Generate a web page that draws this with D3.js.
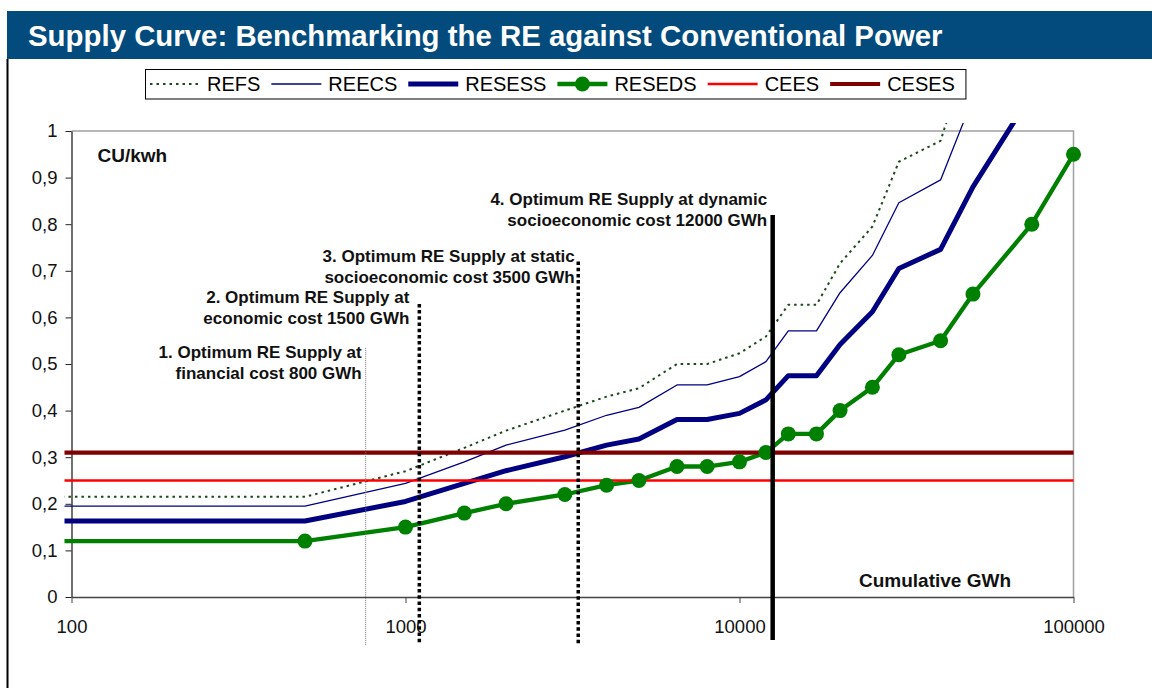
<!DOCTYPE html>
<html><head><meta charset="utf-8">
<script src="https://cdn.jsdelivr.net/npm/d3@7"></script>
<style>
body{margin:0;background:#fff;}
svg{display:block;font-family:Arial,"Liberation Sans",Helvetica,sans-serif;}
</style>
</head><body>
<svg id="chart" width="1152" height="688"></svg>
<script>
// ---------------- DATA ----------------
const chartTitle = "Supply Curve: Benchmarking the RE against Conventional Power";
const seriesNames = ["REFS", "REECS", "RESESS", "RESEDS", "CEES", "CESES"];
const cumulativeGWh = [50, 500, 1000, 1500, 2000, 3000, 4000, 5000, 6500, 8000, 10000,
  12000, 14000, 17000, 20000, 25000, 30000, 40000, 50000, 75000, 100000];
const refs   = [0.215, 0.215, 0.270, 0.320, 0.357, 0.400, 0.430, 0.448, 0.500, 0.500, 0.523,
  0.559, 0.627, 0.627, 0.716, 0.795, 0.934, 0.979, 1.200];
const reecs  = [0.195, 0.195, 0.244, 0.290, 0.326, 0.358, 0.390, 0.407, 0.455, 0.455, 0.473,
  0.505, 0.571, 0.571, 0.653, 0.733, 0.846, 0.895, 1.070];
const resess = [0.163, 0.163, 0.205, 0.244, 0.271, 0.301, 0.326, 0.339, 0.381, 0.381, 0.394,
  0.423, 0.475, 0.475, 0.542, 0.612, 0.705, 0.746, 0.880, 1.080];
const reseds = [0.12, 0.12, 0.15, 0.18, 0.20, 0.22, 0.24, 0.25, 0.28, 0.28, 0.29,
  0.31, 0.35, 0.35, 0.40, 0.45, 0.52, 0.55, 0.65, 0.80, 0.95];
const ceesCost = 0.25;
const cesesCost = 0.31;
const benchmarkGWh = [50, 100000];

const xTickValues = [100, 1000, 10000, 100000];
const xTickLabels = ["100", "1000", "10000", "100000"];
const yTickValues = [0, 0.1, 0.2, 0.3, 0.4, 0.5, 0.6, 0.7, 0.8, 0.9, 1];
const yTickLabels = ["0", "0,1", "0,2", "0,3", "0,4", "0,5", "0,6", "0,7", "0,8", "0,9", "1"];
const yAxisTitle = "CU/kwh";
const xAxisTitle = "Cumulative GWh";

// optimum supply markers (position on x axis, top of the marker line in CU/kwh)
const optimumGWh = [760, 1100, 3290, 12570];
const optimumTop = [0.534, 0.629, 0.72, 0.82];
const optimumLabels = [
  ["1. Optimum RE Supply at", "financial cost 800 GWh"],
  ["2. Optimum RE Supply at", "economic cost 1500 GWh"],
  ["3. Optimum RE Supply at static", "socioeconomic cost 3500 GWh"],
  ["4. Optimum RE Supply at dynamic", "socioeconomic cost 12000 GWh"]
];

// ---------------- LAYOUT / STYLE ----------------
const plot = {left: 71.5, right: 1073.5, top: 131, bottom: 597};
const labelGap = [4, 10, 3.5, 5.5];
const labelBaselines = [[358, 379], [302.5, 324], [262, 283], [204.5, 226]];
const optimumBottomPx = [645, 645, 645, 640];

const svg = d3.select("#chart");

const x = d3.scaleLog().domain([100, 100000]).range([plot.left, plot.right]);
const y = d3.scaleLinear().domain([0, 1]).range([plot.bottom, plot.top]);

// title bar
svg.append("rect").attr("x", 7).attr("y", 11).attr("width", 1145).attr("height", 48)
  .attr("fill", "#024b7c");
svg.append("text").attr("x", 28).attr("y", 46)
  .attr("fill", "#fff").attr("font-weight", "bold").attr("font-size", 29.4)
  .text(chartTitle);
// left frame line
svg.append("line").attr("x1", 7.5).attr("x2", 7.5).attr("y1", 59).attr("y2", 688)
  .attr("stroke", "#000").attr("stroke-width", 2);

// plot border (top & right)
svg.append("path")
  .attr("d", `M${plot.left},${plot.top}H${plot.right}V${plot.bottom}`)
  .attr("fill", "none").attr("stroke", "#a0a0a0").attr("stroke-width", 1.5);

// axes
const yAxis = d3.axisLeft(y).tickValues(yTickValues)
  .tickFormat((d, i) => yTickLabels[i]).tickSize(6).tickSizeOuter(0).tickPadding(8);
const gy = svg.append("g").attr("transform", `translate(${plot.left},0)`).call(yAxis);
gy.selectAll("text").attr("font-size", 18.5).attr("fill", "#111").attr("font-family", "Arial, 'Liberation Sans', sans-serif");
gy.select(".domain").attr("stroke", "#222").attr("stroke-width", 1.3);
gy.selectAll(".tick line").attr("stroke", "#222");

const xAxis = d3.axisBottom(x).tickValues(xTickValues)
  .tickFormat((d, i) => xTickLabels[i]).tickSize(6).tickSizeOuter(0).tickPadding(16.5);
const gx = svg.append("g").attr("transform", `translate(0,${plot.bottom})`).call(xAxis);
gx.selectAll("text").attr("font-size", 18.5).attr("fill", "#111").attr("font-family", "Arial, 'Liberation Sans', sans-serif");
gx.select(".domain").attr("stroke", "#444").attr("stroke-width", 1.5);
gx.selectAll(".tick line").attr("stroke", "#444");

// clip (Excel clips lines a few pixels outside the plot area)
svg.append("clipPath").attr("id", "plotclip").append("rect")
  .attr("x", plot.left - 7).attr("y", plot.top - 8)
  .attr("width", plot.right - plot.left + 20).attr("height", plot.bottom - plot.top + 16);

const gPlot = svg.append("g").attr("clip-path", "url(#plotclip)");
const line = d3.line().x(d => x(d[0])).y(d => y(d[1]));
const pairs = vals => vals.map((v, i) => [cumulativeGWh[i], v]);

const styles = {
  REFS:   {color: "#1a4a1a", width: 2,   dash: "2.5,4"},
  REECS:  {color: "#000080", width: 1.3, dash: null},
  RESESS: {color: "#000080", width: 5,   dash: null},
  RESEDS: {color: "#008000", width: 4.3, dash: null},
  CEES:   {color: "#ff0000", width: 2.6, dash: null},
  CESES:  {color: "#800000", width: 4.2, dash: null}
};

const seriesData = {
  REFS: pairs(refs),
  REECS: pairs(reecs),
  RESESS: pairs(resess),
  RESEDS: pairs(reseds),
  CEES: benchmarkGWh.map(g => [g, ceesCost]),
  CESES: benchmarkGWh.map(g => [g, cesesCost])
};

seriesNames.forEach(name => {
  const s = styles[name];
  gPlot.append("path").datum(seriesData[name])
    .attr("d", line).attr("fill", "none")
    .attr("stroke", s.color).attr("stroke-width", s.width)
    .attr("stroke-linejoin", "round")
    .attr("stroke-dasharray", s.dash);
});
gPlot.selectAll("circle.m").data(seriesData.RESEDS.filter(d => d[0] >= 100))
  .enter().append("circle").attr("class", "m")
  .attr("cx", d => x(d[0])).attr("cy", d => y(d[1])).attr("r", 7.5)
  .attr("fill", styles.RESEDS.color);

// axis titles
svg.append("text").attr("x", 97.5).attr("y", 162).attr("font-weight", "bold")
  .attr("font-size", 19).attr("fill", "#111").text(yAxisTitle);
svg.append("text").attr("x", 859).attr("y", 587).attr("font-weight", "bold")
  .attr("font-size", 19).attr("fill", "#111").text(xAxisTitle);

// optimum markers
const optStyles = [
  {color: "#777", width: 1, dash: "1,1"},
  {color: "#000", width: 3.5, dash: "3.5,2.7"},
  {color: "#000", width: 3.5, dash: "3.5,2.7"},
  {color: "#000", width: 4.5, dash: null}
];
optimumGWh.forEach((g, i) => {
  const px = x(g);
  svg.append("line").attr("x1", px).attr("x2", px)
    .attr("y1", y(optimumTop[i])).attr("y2", optimumBottomPx[i])
    .attr("stroke", optStyles[i].color).attr("stroke-width", optStyles[i].width)
    .attr("stroke-dasharray", optStyles[i].dash);
  optimumLabels[i].forEach((t, j) => {
    svg.append("text").attr("x", px - labelGap[i]).attr("y", labelBaselines[i][j])
      .attr("text-anchor", "end").attr("font-weight", "bold").attr("font-size", 17)
      .attr("fill", "#111").text(t);
  });
});

// legend
const gLeg = svg.append("g");
const legBox = gLeg.append("rect").attr("x", 145.5).attr("y", 69.5).attr("height", 29.5)
  .attr("fill", "#fff").attr("stroke", "#000").attr("stroke-width", 1);
let lx = 150;
const ly = 84;
seriesNames.forEach(name => {
  const s = styles[name];
  gLeg.append("line").attr("x1", lx).attr("x2", lx + 50).attr("y1", ly).attr("y2", ly)
    .attr("stroke", s.color).attr("stroke-width", name === "REECS" ? 1.3 : s.width)
    .attr("stroke-dasharray", s.dash);
  if (name === "RESEDS") {
    gLeg.append("circle").attr("cx", lx + 25).attr("cy", ly).attr("r", 7.5).attr("fill", s.color);
  }
  const t = gLeg.append("text").attr("x", lx + 57).attr("y", ly + 7)
    .attr("font-size", 20).attr("fill", "#000").text(name);
  lx = lx + 57 + t.node().getComputedTextLength() + 11;
});
legBox.attr("width", lx - 145.5 - 0);
</script>
</body></html>
